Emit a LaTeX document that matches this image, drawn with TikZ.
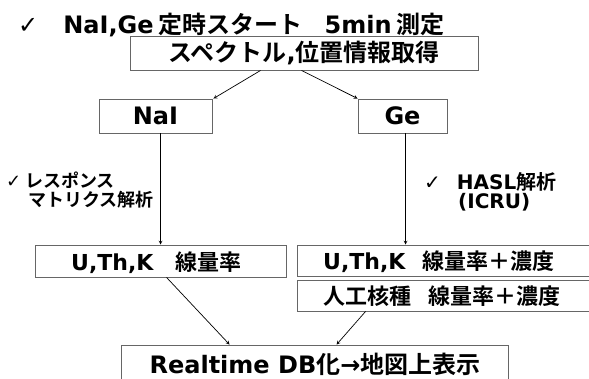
\documentclass[tikz,border=0pt]{standalone}
\usepackage{fontspec}
\setmainfont{Noto Sans CJK JP}[BoldFont=* Bold]
\newfontfamily\lat{DejaVu Sans}[BoldFont=* Bold]
\newfontfamily\chk{DejaVu Sans}
\usetikzlibrary{calc}
\begin{document}
\begin{tikzpicture}[x=1pt,y=-1pt,
  box/.style={draw=black!60,line width=0.9pt,rectangle,inner sep=0pt},
  fbig/.style={font=\fontsize{24}{27}\selectfont\bfseries},
  fmid/.style={font=\fontsize{22}{25}\selectfont\bfseries},
  fsmall/.style={font=\fontsize{18}{19}\selectfont\bfseries},
  fsmallb/.style={font=\fontsize{20}{19}\selectfont\bfseries},
  arr/.style={->,>=stealth,line width=0.7pt}]
\useasboundingbox (0,0) rectangle (589,379);
\clip (0,0) rectangle (589,379);
\node[fbig,anchor=west,inner sep=0pt] (title) at (18,25) {{\chk\mdseries ✓}\hspace{25pt}{\lat NaI,Ge}\hspace{5pt}定時スタート\hspace{22pt}{\lat 5min}\hspace{5pt}測定};
\node[box,fbig,minimum width=348pt,minimum height=34pt] (top) at (304,53) {スペクトル{\lat ,}位置情報取得};
\node[box,fbig,minimum width=113pt,minimum height=34pt] (nai) at (155.5,116) {\lat NaI};
\node[box,fbig,minimum width=89pt,minimum height=34pt] (ge) at (402.5,116) {\lat Ge};
\node[fsmall,anchor=north west,align=left,inner sep=0pt] (lab1) at (6,172) {{\chk\mdseries ✓}\hspace{4pt}レスポンス\\\hspace*{22pt}マトリクス解析};
\node[fsmallb,anchor=north west,align=left,inner sep=0pt] (lab2) at (424,172) {{\chk\mdseries ✓}\hspace{16pt}{\lat HASL}解析\\\hspace*{34pt}{\lat (ICRU)}};
\node[box,minimum width=251pt,minimum height=32pt] (uthk) at (160.5,261) {};
\node[fmid,anchor=west,inner sep=0pt] (uthkt) at (71,263) {{\lat U,Th,K}\hspace{22pt}線量率};
\node[box,minimum width=303pt,minimum height=31pt] (rb1) at (448.5,260.5) {};
\node[fmid,anchor=west,inner sep=0pt] (rb1t) at (323,262) {{\lat U,Th,K}\hspace{17pt}線量率＋濃度};
\node[box,minimum width=303pt,minimum height=31pt] (rb2) at (448.5,295.5) {};
\node[fmid,anchor=west,inner sep=0pt] (rb2t) at (323,296) {人工核種\hspace{17pt}線量率＋濃度};
\node[box,minimum width=387pt,minimum height=45pt] (bot) at (314.5,367.5) {};
\node[fbig,inner sep=0pt] (bott) at (315,364) {{\lat Realtime DB}化{\lat →}地図上表示};
\draw[arr] ($(top.south west)+(131,0)$) -- ($(nai.north east)+(1,0)$);
\draw[arr] ($(top.south west)+(172,0)$) -- (ge.north west);
\draw[arr] ($(nai.south west)+(62,0)$) -- ($(uthk.north west)+(126,0)$);
\draw[arr] ($(ge.south west)+(48,0)$) -- ($(rb1.north west)+(109,0)$);
\draw[arr] ($(uthk.south west)+(132,0)$) -- ($(bot.north west)+(109,0)$);
\draw[arr] ($(rb2.south west)+(69,0)$) -- ($(bot.north west)+(216,0)$);
\end{tikzpicture}
\end{document}
